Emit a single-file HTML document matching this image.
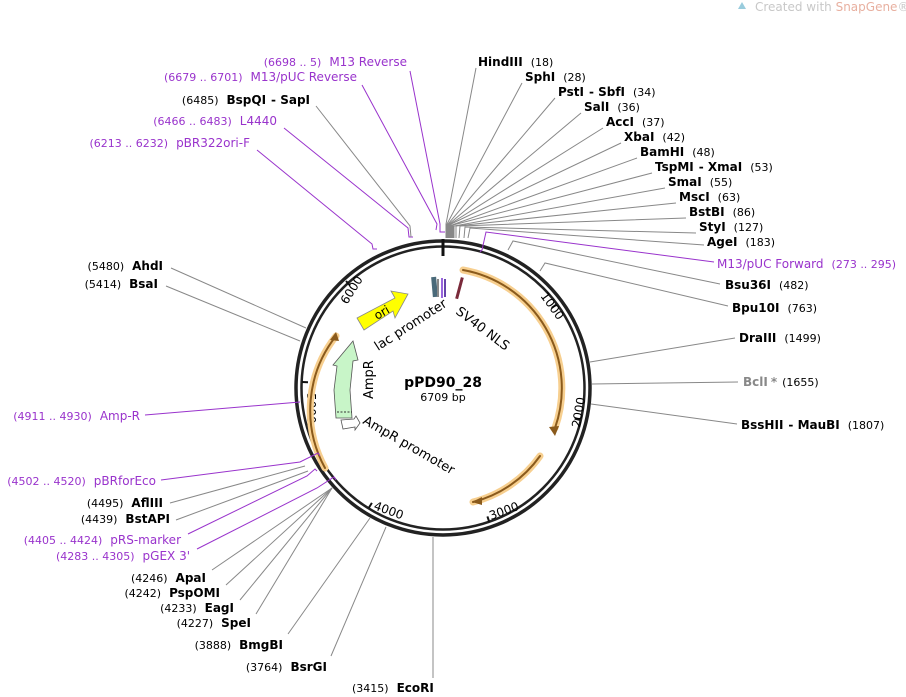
<!DOCTYPE html>
<html><head><meta charset="utf-8"><style>
html,body{margin:0;padding:0;background:#fff;}
svg{display:block;font-family:"DejaVu Sans","Liberation Sans",sans-serif;}
.e{font-weight:bold;font-size:12px;fill:#000}
.n{font-size:11px;fill:#000}
.p{font-size:12px;fill:#9933cc}
.pn{font-size:11px;fill:#9933cc}
.l{stroke:#888;stroke-width:1;fill:none}
.pl{stroke:#9933cc;stroke-width:1;fill:none}
</style></head><body>
<svg width="906" height="697" viewBox="0 0 906 697" xmlns="http://www.w3.org/2000/svg">
<text x="755" y="11" font-size="12" fill="#c8c8c8">Created with <tspan fill="#e8b0a0">SnapGene</tspan>®</text>
<path d="M738 9 l4 -7 l4 7 z" fill="#9cd" />

<circle cx="443" cy="388" r="147" fill="none" stroke="#222" stroke-width="3.5"/>
<circle cx="443" cy="388" r="141.5" fill="none" stroke="#222" stroke-width="2.5"/>
<line x1="443" y1="239" x2="443" y2="256" stroke="#111" stroke-width="3"/>

<g stroke="#111" stroke-width="2">
<line x1="556.5" y1="304.4" x2="551.7" y2="307.9"/>
<line x1="580.5" y1="420" x2="574.6" y2="418.6"/>
<line x1="489.3" y1="522.1" x2="487.4" y2="516.4"/>
<line x1="368.7" y1="508" x2="371.9" y2="502.9"/>
<line x1="302.1" y1="382" x2="308" y2="382.3"/>
<line x1="346" y1="281" x2="350" y2="285.5"/>
</g>
<g font-size="12" fill="#000">
<text transform="translate(540,296) rotate(54)">1000</text>
<text transform="translate(580,428) rotate(-80)">2000</text>
<text transform="translate(491,520) rotate(-20)">3000</text>
<text transform="translate(373,509) rotate(20)">4000</text>
<text transform="translate(307,393) rotate(90)">5000</text>
<text transform="translate(347,305) rotate(-58)">6000</text>
</g>

<g fill="none" stroke-linecap="round">
<path d="M463 270 A120 120 0 0 1 555 428" stroke="#f7cf8f" stroke-width="7"/>
<path d="M463 270 A120 120 0 0 1 555 428" stroke="#8a5a1c" stroke-width="2"/>
<path d="M540 456 A118 118 0 0 1 473 502" stroke="#f7cf8f" stroke-width="7"/>
<path d="M540 456 A118 118 0 0 1 473 502" stroke="#8a5a1c" stroke-width="2"/>
<path d="M325 468 A120 120 0 0 1 336 336" stroke="#f7cf8f" stroke-width="7"/>
<path d="M325 468 A120 120 0 0 1 336 336" stroke="#8a5a1c" stroke-width="2"/>
</g>
<path d="M549 427 l6 9 l4 -10 z" fill="#8a5a1c"/>
<path d="M482 497 l-10 5 l10 3 z" fill="#8a5a1c"/>
<path d="M330 340 l6 -8 l3 9 z" fill="#8a5a1c"/>

<polygon points="357,318 395,298 391,291 408,294 395,318 393,311 364,330" fill="#ffff00" stroke="#888" stroke-width="0.8"/>
<text transform="translate(377,320) rotate(-30)" font-size="12" fill="#000">ori</text>
<polygon points="336,418 334,390 337,366 333,365 353,341 358,360 353,361 350,390 352,418" fill="#c8f5c8" stroke="#555" stroke-width="0.8"/>
<line x1="337" y1="412" x2="352" y2="412" stroke="#333" stroke-dasharray="2,1.5"/>
<polygon points="341,420 354,419 356,416 360,423 355,430 355,427 343,429" fill="#fff" stroke="#555" stroke-width="0.8"/>
<rect x="432" y="277" width="5" height="20" fill="#4a6a7a" transform="rotate(-5 434 287)"/>
<rect x="437" y="279" width="2" height="18" fill="#888"/>
<rect x="441" y="278" width="2" height="20" fill="#9966dd"/>
<rect x="444" y="279" width="2" height="18" fill="#6644aa"/>
<rect x="458" y="277" width="3" height="22" fill="#7a2a3a" transform="rotate(15 459 288)"/>

<text transform="translate(378,351) rotate(-33)" font-size="13">lac promoter</text>
<text transform="translate(455,313) rotate(37)" font-size="13">SV40 NLS</text>
<text transform="translate(373,399) rotate(-90)" font-size="13">AmpR</text>
<text transform="translate(362,423) rotate(30)" font-size="13">AmpR promoter</text>

<text x="443" y="387" text-anchor="middle" font-size="14" font-weight="bold">pPD90_28</text>
<text x="443" y="401" text-anchor="middle" font-size="11">6709 bp</text>

<g class="l">
<polyline points="476,68 446,224 446,238"/>
<polyline points="522,83 447,224 447,238"/>
<polyline points="555,98 448,224 448,238"/>
<polyline points="581,113 449,224 449,238"/>
<polyline points="603,128 450,224 450,238"/>
<polyline points="621,143 451,224 451,238"/>
<polyline points="637,158 452,225 452,238"/>
<polyline points="652,173 453,225 453,238"/>
<polyline points="665,188 454,226 454,238"/>
<polyline points="676,203 456,226 456,238"/>
<polyline points="686,218 460,226 459,238"/>
<polyline points="696,233 465,227 464,238"/>
<polyline points="704,245 470,228 468,238"/>
<polyline points="720,284 513,241 508,250"/>
<polyline points="728,306 545,263 540,271"/>
<polyline points="735,338 590,362"/>
<polyline points="738,382 592,384"/>
<polyline points="737,424 591,404"/>
<polyline points="433,537 433,678"/>
</g>
<polyline class="pl" points="714,262 486,232 482,250 480,252"/>

<g>
<text x="478" y="66"><tspan class="e">HindIII</tspan><tspan class="n" dx="8">(18)</tspan></text>
<text x="525" y="81"><tspan class="e">SphI</tspan><tspan class="n" dx="8">(28)</tspan></text>
<text x="558" y="96"><tspan class="e">PstI</tspan><tspan class="e" dx="5">- SbfI</tspan><tspan class="n" dx="8">(34)</tspan></text>
<text x="584" y="111"><tspan class="e">SalI</tspan><tspan class="n" dx="8">(36)</tspan></text>
<text x="606" y="126"><tspan class="e">AccI</tspan><tspan class="n" dx="8">(37)</tspan></text>
<text x="624" y="141"><tspan class="e">XbaI</tspan><tspan class="n" dx="8">(42)</tspan></text>
<text x="640" y="156"><tspan class="e">BamHI</tspan><tspan class="n" dx="8">(48)</tspan></text>
<text x="655" y="171"><tspan class="e">TspMI</tspan><tspan class="e" dx="5">- XmaI</tspan><tspan class="n" dx="8">(53)</tspan></text>
<text x="668" y="186"><tspan class="e">SmaI</tspan><tspan class="n" dx="8">(55)</tspan></text>
<text x="679" y="201"><tspan class="e">MscI</tspan><tspan class="n" dx="8">(63)</tspan></text>
<text x="689" y="216"><tspan class="e">BstBI</tspan><tspan class="n" dx="8">(86)</tspan></text>
<text x="699" y="231"><tspan class="e">StyI</tspan><tspan class="n" dx="8">(127)</tspan></text>
<text x="707" y="246"><tspan class="e">AgeI</tspan><tspan class="n" dx="8">(183)</tspan></text>
<text x="717" y="268"><tspan class="p">M13/pUC Forward</tspan><tspan class="pn" dx="8">(273 .. 295)</tspan></text>
<text x="725" y="289"><tspan class="e">Bsu36I</tspan><tspan class="n" dx="8">(482)</tspan></text>
<text x="732" y="312"><tspan class="e">Bpu10I</tspan><tspan class="n" dx="8">(763)</tspan></text>
<text x="739" y="342"><tspan class="e">DraIII</tspan><tspan class="n" dx="8">(1499)</tspan></text>
<text x="743" y="386"><tspan class="e" style="fill:#888">BclI</tspan><tspan fill="#888" font-size="12" font-weight="bold" dx="3">*</tspan><tspan class="n" dx="5">(1655)</tspan></text>
<text x="741" y="429"><tspan class="e">BssHII</tspan><tspan class="e" dx="5">- MauBI</tspan><tspan class="n" dx="8">(1807)</tspan></text>
<text x="352" y="692"><tspan class="n">(3415)</tspan><tspan class="e" dx="8">EcoRI</tspan></text>
</g>

<g class="pl">
<polyline points="410,71 440,224 440,232 445,232"/>
<polyline points="362,85 437,224 436,230"/>
<polyline points="284,128 408,228 409,237 413,237"/>
<polyline points="257,150 372,244 373,249 377,249"/>
<polyline points="145,415 300,402"/>
<polyline points="161,480 300,462 318,453 320,456"/>
<polyline points="188,534 307,476 315,469 317,471"/>
<polyline points="197,549 317,488 334,477 336,480"/>
</g>
<g class="l">
<polyline points="316,106 410,226 411,237"/>
<polyline points="171,268 306,328"/>
<polyline points="166,286 300,341"/>
<polyline points="170,503 305,466"/>
<polyline points="176,520 308,471"/>
<polyline points="212,570 332,488"/>
<polyline points="226,585 332,488"/>
<polyline points="240,600 332,488"/>
<polyline points="256,614 332,488"/>
<polyline points="288,634 370,518"/>
<polyline points="331,656 386,527"/>
</g>

<g text-anchor="end">
<text x="407" y="66"><tspan class="pn">(6698 .. 5)</tspan><tspan class="p" dx="8">M13 Reverse</tspan></text>
<text x="357" y="81"><tspan class="pn">(6679 .. 6701)</tspan><tspan class="p" dx="8">M13/pUC Reverse</tspan></text>
<text x="310" y="104"><tspan class="n">(6485)</tspan><tspan class="e" dx="8">BspQI</tspan><tspan class="e" dx="5">- SapI</tspan></text>
<text x="277" y="125"><tspan class="pn">(6466 .. 6483)</tspan><tspan class="p" dx="8">L4440</tspan></text>
<text x="250" y="147"><tspan class="pn">(6213 .. 6232)</tspan><tspan class="p" dx="8">pBR322ori-F</tspan></text>
<text x="163" y="270"><tspan class="n">(5480)</tspan><tspan class="e" dx="8">AhdI</tspan></text>
<text x="158" y="288"><tspan class="n">(5414)</tspan><tspan class="e" dx="8">BsaI</tspan></text>
<text x="140" y="420"><tspan class="pn">(4911 .. 4930)</tspan><tspan class="p" dx="8">Amp-R</tspan></text>
<text x="156" y="485"><tspan class="pn">(4502 .. 4520)</tspan><tspan class="p" dx="8">pBRforEco</tspan></text>
<text x="163" y="507"><tspan class="n">(4495)</tspan><tspan class="e" dx="8">AflIII</tspan></text>
<text x="170" y="523"><tspan class="n">(4439)</tspan><tspan class="e" dx="8">BstAPI</tspan></text>
<text x="181" y="544"><tspan class="pn">(4405 .. 4424)</tspan><tspan class="p" dx="8">pRS-marker</tspan></text>
<text x="190" y="560"><tspan class="pn">(4283 .. 4305)</tspan><tspan class="p" dx="8">pGEX 3'</tspan></text>
<text x="206" y="582"><tspan class="n">(4246)</tspan><tspan class="e" dx="8">ApaI</tspan></text>
<text x="220" y="597"><tspan class="n">(4242)</tspan><tspan class="e" dx="8">PspOMI</tspan></text>
<text x="234" y="612"><tspan class="n">(4233)</tspan><tspan class="e" dx="8">EagI</tspan></text>
<text x="251" y="627"><tspan class="n">(4227)</tspan><tspan class="e" dx="8">SpeI</tspan></text>
<text x="283" y="649"><tspan class="n">(3888)</tspan><tspan class="e" dx="8">BmgBI</tspan></text>
<text x="327" y="671"><tspan class="n">(3764)</tspan><tspan class="e" dx="8">BsrGI</tspan></text>
</g>
</svg>
</body></html>
